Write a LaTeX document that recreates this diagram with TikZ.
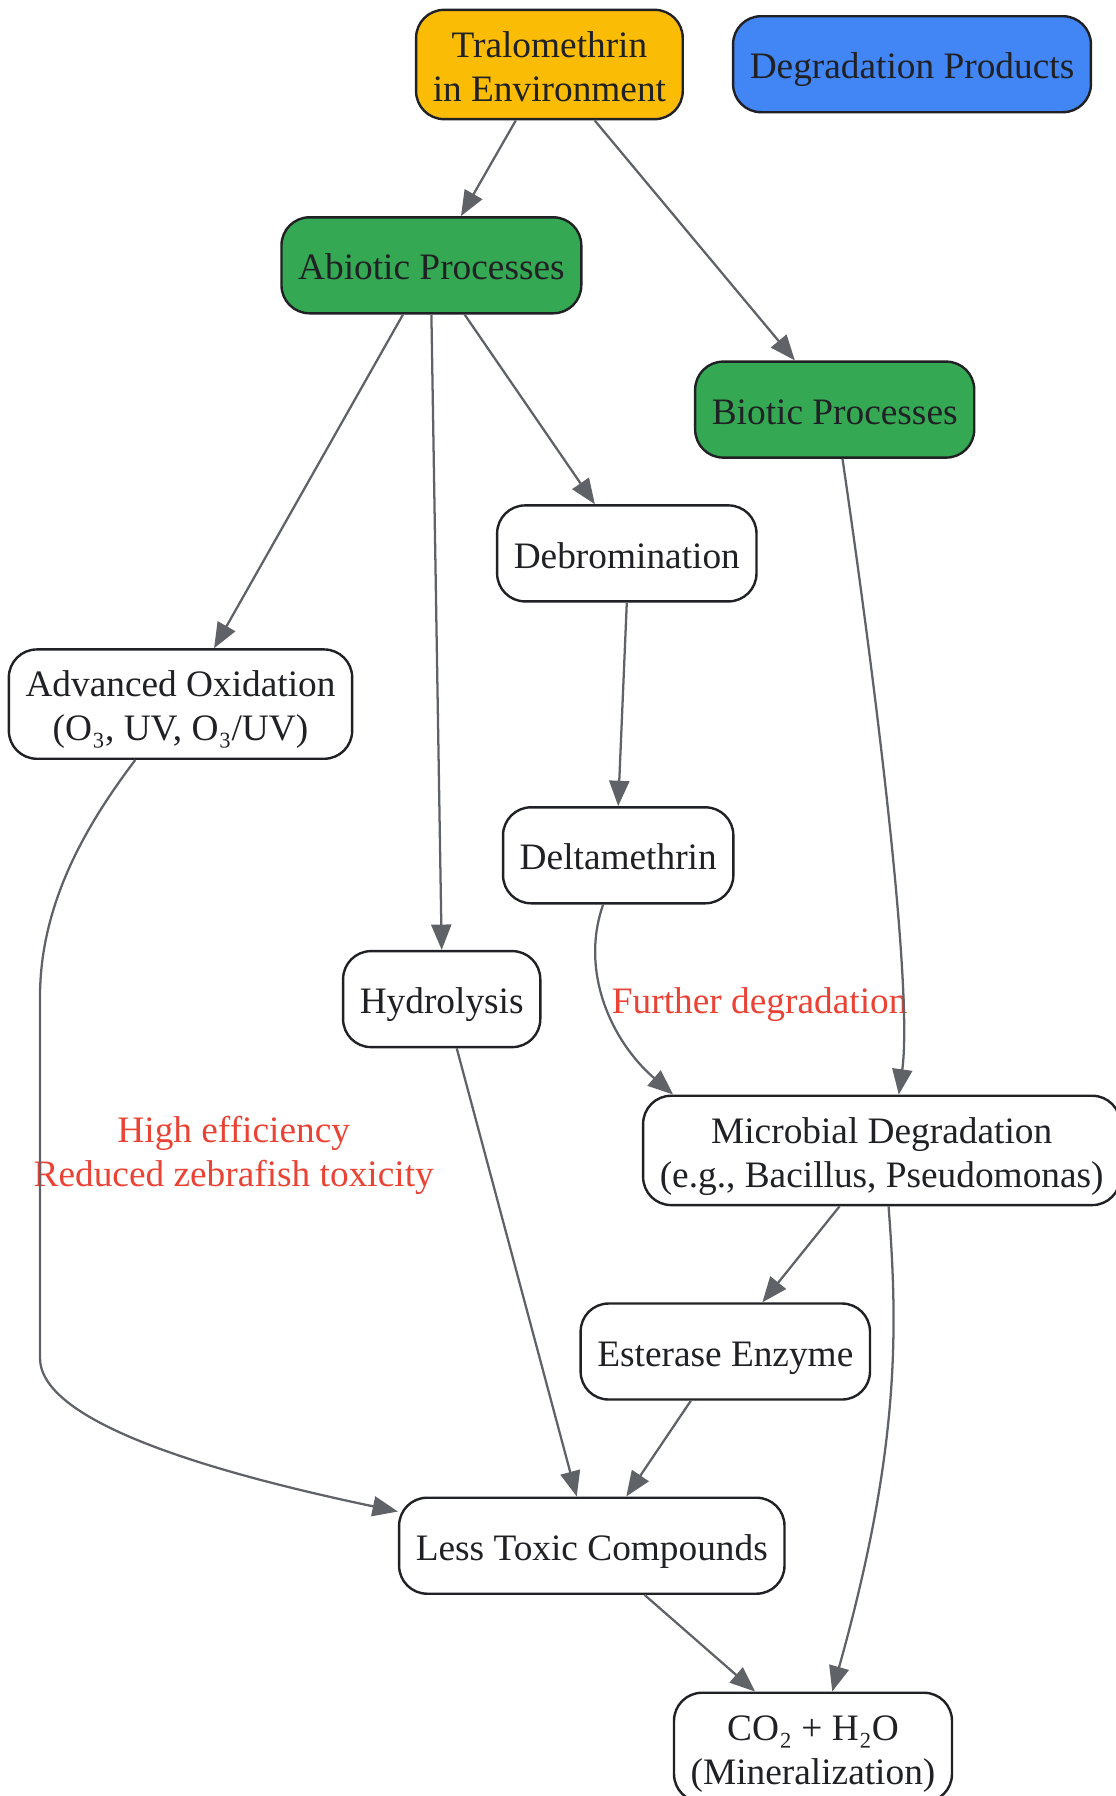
\documentclass[tikz,border=0pt]{standalone}
\usepackage{fontspec}
\setmainfont{Liberation Serif}
\usepackage{tikz}
\usetikzlibrary{arrows.meta}

\definecolor{tralyellow}{HTML}{FBBC05}
\definecolor{prodblue}{HTML}{4285F4}
\definecolor{procgreen}{HTML}{34A853}
\definecolor{edgegray}{HTML}{5F6368}
\definecolor{notered}{HTML}{EA4335}
\definecolor{inkdark}{HTML}{202124}

\tikzset{
  stage/.style={draw=inkdark, line width=1.8pt, rounded corners=21pt, fill=white,
    text=inkdark, align=center, inner xsep=12.5pt, inner ysep=12pt,
    minimum height=72pt, font=\fontsize{28}{33}\selectfont},
  oneline/.style={stage, text height=25pt, text depth=3pt},
  twoline/.style={stage, text height=58pt, text depth=3pt, inner ysep=10.5pt},
  flow/.style={draw=edgegray, line width=1.7pt, -{Triangle[length=19pt,width=15pt]}},
  note/.style={text=notered, align=center, font=\fontsize{28}{33}\selectfont}
}

\begin{document}
\begin{tikzpicture}[x=0.75pt, y=-0.75pt]
\useasboundingbox (0,0) rectangle (1116,1796);
%%% The source and the legend
\node[twoline, fill=tralyellow] (tral) at (549.4,64.5) {Tralomethrin\\in Environment};
\node[oneline, fill=prodblue] (prod) at (912,64.2) {Degradation Products};
%%% The two kinds of processes
\node[oneline, fill=procgreen] (abio) at (431.4,265.3) {Abiotic Processes};
\node[oneline, fill=procgreen] (bio) at (834.7,409.6) {Biotic Processes};
%%%%%% The pathways
\node[oneline] (debr) at (626.8,553.4) {Debromination};
\node[twoline] (advox) at (180.5,704.1) {Advanced Oxidation\\(O₃, UV, O₃/UV)};
\node[oneline] (delta) at (618.2,855.3) {Deltamethrin};
\node[oneline] (hydro) at (441.7,999.1) {Hydrolysis};
\node[twoline] (micro) at (881.7,1150.4) {Microbial Degradation\\(e.g., Bacillus, Pseudomonas)};
\node[oneline] (ester) at (725.3,1351.5) {Esterase Enzyme};
%%%%%% The end products
\node[oneline] (less) at (591.8,1545.7) {Less Toxic Compounds};
\node[twoline] (mineral) at (813,1747.4) {CO₂ + H₂O\\(Mineralization)};
%%% The edge labels
\node[note] (lblfurther) at (759.7,1005) {Further degradation};
\node[note] (lbloxid) at (233.7,1155) {High efficiency\\Reduced zebrafish toxicity};
%%%%%% The edges
\draw[flow] (tral.239) -- (abio.59);
\draw[flow] (tral.309) -- (bio.129);
%
\draw[flow] (abio.240) -- (advox.59);
\draw[flow] (abio.south) -- (hydro.north);
\draw[flow] (abio.304) -- (debr.123);
\draw[flow] (bio.279) .. controls (885,750) and (912,1000) .. (micro.73);
%
\draw[flow] (debr.south) -- (delta.north);
\draw[flow] (advox.231) .. controls (90,820) and (40,900) .. (40,997)
  -- (40,1358) .. controls (40,1420) and (200,1470) .. (less.170);
\draw[flow] (delta.253) .. controls (580,970) and (610,1040) .. (micro.165);
\draw[flow] (hydro.287) -- (less.107);
%
\draw[flow] (micro.233) -- (ester.53);
\draw[flow] (micro.277) .. controls (898,1330) and (900,1450) .. (mineral.71);
\draw[flow] (ester.235) -- (less.55);
\draw[flow] (less.317) -- (mineral.136);
\end{tikzpicture}
\end{document}
